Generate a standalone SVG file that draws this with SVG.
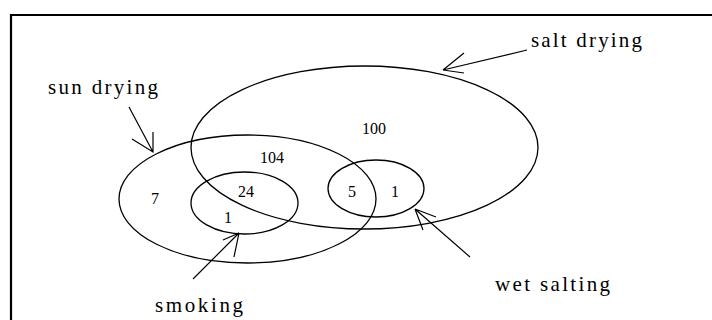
<svg xmlns="http://www.w3.org/2000/svg" width="712" height="320" viewBox="0 0 712 320">
<style>
.e{fill:none;stroke:#000;stroke-width:1.3}
.a{fill:none;stroke:#000;stroke-width:1.2}
.t{font-family:"Liberation Serif","Times New Roman",serif;font-size:21px;fill:#000}
.n{font-family:"Liberation Serif","Times New Roman",serif;font-size:16px;fill:#000;text-anchor:middle}
</style>
<rect x="0" y="0" width="712" height="320" fill="#fff"/>
<path d="M11,320 V15 H712" fill="none" stroke="#000" stroke-width="2.2"/>
<g id="salt-drying">
<ellipse class="e" cx="364.5" cy="147.5" rx="173.5" ry="81.5"/>
<text class="t" x="531" y="47" textLength="111" lengthAdjust="spacing">salt drying</text>
<text class="n" x="374" y="134">100</text>
</g>
<g id="sun-drying">
<ellipse class="e" cx="247.5" cy="199" rx="128.5" ry="64"/>
<text class="t" x="48" y="94" textLength="110" lengthAdjust="spacing">sun drying</text>
<text class="n" x="155" y="204">7</text>
<text class="n" x="272" y="163">104</text>
</g>
<g id="smoking">
<ellipse class="e" cx="244.5" cy="203" rx="53.5" ry="31"/>
<text class="t" x="155" y="312" textLength="88" lengthAdjust="spacing">smoking</text>
<text class="n" x="246" y="197">24</text>
<text class="n" x="228" y="223">1</text>
</g>
<g id="wet-salting">
<ellipse class="e" cx="376" cy="188.5" rx="48" ry="28.5"/>
<text class="t" x="495" y="291" textLength="115" lengthAdjust="spacing">wet salting</text>
<text class="n" x="352" y="197">5</text>
<text class="n" x="395" y="197">1</text>
</g>
<g id="connectors">
<path class="a" d="M129,107 L153,152 M132,139 L153,152 L153,132"/>
<path class="a" d="M527,50 L443,70 L464,53 M443,70 L464,73"/>
<path class="a" d="M193,279 L239,233 L223,240 M239,233 L234,257"/>
<path class="a" d="M470,257 L415,209 L436,217 M415,209 L423,230"/>
</g>
</svg>
